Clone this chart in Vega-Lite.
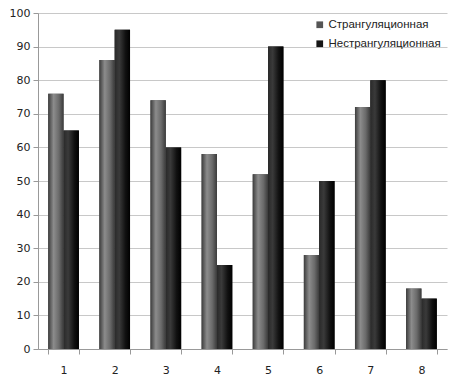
{
  "$schema": "https://vega.github.io/schema/vega-lite/v6.json",
  "width": 409,
  "height": 336,
  "autosize": "none",
  "padding": {"left": 38, "top": 13, "right": 25, "bottom": 31},
  "background": "white",
  "config": {
    "view": {"stroke": null},
    "font": "DejaVu Sans",
    "axis": {"labelFont": "DejaVu Sans", "labelFontSize": 11, "labelColor": "#222", "domainColor": "#999", "tickColor": "#999", "gridColor": "#c8c8c8"}
  },
  "data": {
    "values": [
      {"cat": "1", "series": "Странгуляционная", "value": 76},
      {"cat": "1", "series": "Нестрангуляционная", "value": 65},
      {"cat": "2", "series": "Странгуляционная", "value": 86},
      {"cat": "2", "series": "Нестрангуляционная", "value": 95},
      {"cat": "3", "series": "Странгуляционная", "value": 74},
      {"cat": "3", "series": "Нестрангуляционная", "value": 60},
      {"cat": "4", "series": "Странгуляционная", "value": 58},
      {"cat": "4", "series": "Нестрангуляционная", "value": 25},
      {"cat": "5", "series": "Странгуляционная", "value": 52},
      {"cat": "5", "series": "Нестрангуляционная", "value": 90},
      {"cat": "6", "series": "Странгуляционная", "value": 28},
      {"cat": "6", "series": "Нестрангуляционная", "value": 50},
      {"cat": "7", "series": "Странгуляционная", "value": 72},
      {"cat": "7", "series": "Нестрангуляционная", "value": 80},
      {"cat": "8", "series": "Странгуляционная", "value": 18},
      {"cat": "8", "series": "Нестрангуляционная", "value": 15}
    ]
  },
  "encoding": {
    "x": {"field": "cat", "type": "nominal", "title": null,
      "scale": {"paddingInner": 0.4, "paddingOuter": 0.2},
      "axis": {"labelAngle": 0, "labelPadding": 10, "tickBand": "extent", "tickSize": 5}},
    "xOffset": {"field": "series", "type": "nominal", "sort": ["Странгуляционная", "Нестрангуляционная"], "scale": {"paddingInner": 0}},
    "y": {"field": "value", "type": "quantitative", "title": null,
      "scale": {"domain": [0, 100]},
      "axis": {"values": [0,10,20,30,40,50,60,70,80,90,100], "tickSize": 5, "labelPadding": 3, "grid": true}}
  },
  "layer": [
    {
      "mark": {"type": "bar"},
      "encoding": {
        "color": {"field": "series", "type": "nominal", "sort": ["Странгуляционная", "Нестрангуляционная"],
          "scale": {"domain": ["Странгуляционная", "Нестрангуляционная"], "range": ["#555555", "#151515"]},
          "legend": {"title": null, "orient": "top-right", "offset": 6, "symbolType": "square", "symbolSize": 45, "labelFontSize": 11.5, "labelFont": "Liberation Sans", "labelColor": "#222", "rowPadding": 6, "symbolStrokeWidth": 0, "labelOffset": 3}
        }
      }
    },
    {
      "transform": [{"filter": "datum.series === 'Странгуляционная'"}],
      "mark": {"type": "bar", "color": {"gradient": "linear", "x1": 0, "y1": 0, "x2": 1, "y2": 0,
        "stops": [{"offset": 0, "color": "#3c3c3c"}, {"offset": 0.35, "color": "#8c8c8c"}, {"offset": 0.7, "color": "#6a6a6a"}, {"offset": 1, "color": "#3a3a3a"}]}}
    },
    {
      "transform": [{"filter": "datum.series === 'Нестрангуляционная'"}],
      "mark": {"type": "bar", "color": {"gradient": "linear", "x1": 0, "y1": 0, "x2": 1, "y2": 0,
        "stops": [{"offset": 0, "color": "#2a2a2a"}, {"offset": 0.3, "color": "#3a3a3a"}, {"offset": 0.7, "color": "#111111"}, {"offset": 1, "color": "#000000"}]}}
    }
  ]
}
